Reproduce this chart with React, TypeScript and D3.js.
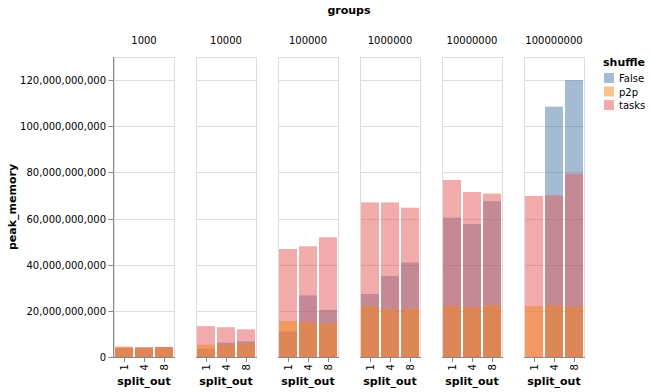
import React from 'react';
import * as d3 from 'd3';

const groups = ['1000', '10000', '100000', '1000000', '10000000', '100000000'];
const splits = ['1', '4', '8'];
const shuffles = ['False', 'p2p', 'tasks'];
const colors = ['#4c78a8', '#f58518', '#e45756'];

// peak_memory in billions, one row per group, columns = split_out 1, 4, 8
const falseMem = [
  [3.9, 4.1, 4.3],
  [3.6, 6.2, 6.8],
  [11.0, 26.7, 20.4],
  [27.3, 35.1, 40.9],
  [60.4, 57.6, 67.5],
  [null, 108.5, 120.0],
];
const p2pMem = [
  [4.2, 4.0, 4.2],
  [5.3, 5.3, 5.6],
  [15.6, 15.2, 14.6],
  [22.1, 20.7, 20.8],
  [22.2, 21.7, 22.5],
  [22.0, 22.5, 22.0],
];
const tasksMem = [
  [4.5, 4.2, 4.4],
  [13.4, 12.9, 12.0],
  [46.8, 48.0, 51.9],
  [67.0, 67.0, 64.7],
  [76.7, 71.5, 70.8],
  [69.8, 70.1, 79.4],
];
const yTicks = [0, 20, 40, 60, 80, 100, 120];

// draw order: False, tasks, p2p
const drawOrder = [0, 2, 1];
const series = [falseMem, p2pMem, tasksMem];

const font = 'DejaVu Sans, sans-serif';

export default function App() {
  const top = 57;
  const bottom = 357;
  const fx = d3.scaleBand<string>().domain(groups).range([114, 114 + 82 * 6 - 22]).paddingInner(22 / 82).paddingOuter(0);
  const x = d3.scaleBand<string>().domain(splits).range([0, fx.bandwidth()]).paddingInner(0.1).paddingOuter(0.05);
  const y = d3.scaleLinear().domain([0, 130]).range([bottom, top]);
  const fmt = d3.format(',');

  return (
    <svg width={651} height={392} style={{ position: 'absolute', left: 0, top: 0 }} fontFamily={font}>
      <rect width={651} height={392} fill="#fff" />
      <text x={349} y={14} textAnchor="middle" fontSize={11} fontWeight="bold">groups</text>

      {groups.map((g, gi) => {
        const x0 = fx(g)!;
        const w = fx.bandwidth();
        return (
          <g key={g}>
            <text x={x0 + w / 2} y={44} textAnchor="middle" fontSize={10}>{g}</text>
            <rect x={x0 + 0.5} y={top + 0.5} width={w} height={bottom - top} fill="none" stroke="#ddd" />
            {yTicks.map(t => (
              <line key={t} x1={x0} x2={x0 + w} y1={Math.round(y(t)) + 0.5} y2={Math.round(y(t)) + 0.5} stroke="#ddd" />
            ))}
            {drawOrder.map(si => splits.map((s, k) => {
              const v = series[si][gi][k];
              if (v == null) return null;
              return (
                <rect key={si + '-' + s} x={x0 + x(s)!} y={y(v)} width={x.bandwidth()} height={bottom - y(v)}
                  fill={colors[si]} fillOpacity={0.5} />
              );
            }))}
            <line x1={x0} x2={x0 + w + 1} y1={bottom + 0.5} y2={bottom + 0.5} stroke="#888" />
            {splits.map(s => {
              const cx = Math.round(x0 + x(s)! + x.bandwidth() / 2) + 0.5;
              return (
                <g key={s}>
                  <line x1={cx} x2={cx} y1={bottom} y2={bottom + 5} stroke="#888" />
                  <text transform={`translate(${cx + 3.5},${bottom + 7}) rotate(-90)`} textAnchor="end" fontSize={10}>{s}</text>
                </g>
              );
            })}
            <text x={x0 + w / 2} y={385} textAnchor="middle" fontSize={11} fontWeight="bold">split_out</text>
          </g>
        );
      })}

      <line x1={113.5} x2={113.5} y1={top} y2={bottom + 1} stroke="#888" />
      {yTicks.map(t => {
        const ty = Math.round(y(t)) + 0.5;
        return (
          <g key={t}>
            <line x1={108.5} x2={113.5} y1={ty} y2={ty} stroke="#888" />
            <text x={106} y={ty + 3.5} textAnchor="end" fontSize={10}>{fmt(t * 1e9)}</text>
          </g>
        );
      })}
      <text transform={`translate(16,${(top + bottom) / 2}) rotate(-90)`} textAnchor="middle" fontSize={11} fontWeight="bold">peak_memory</text>

      <text x={603} y={66} fontSize={11} fontWeight="bold">shuffle</text>
      {shuffles.map((s, i) => (
        <g key={s} transform={`translate(604,${73 + i * 13.5})`}>
          <rect width={10} height={10} fill={colors[i]} fillOpacity={0.5} />
          <text x={15} y={9} fontSize={10}>{s}</text>
        </g>
      ))}
    </svg>
  );
}
